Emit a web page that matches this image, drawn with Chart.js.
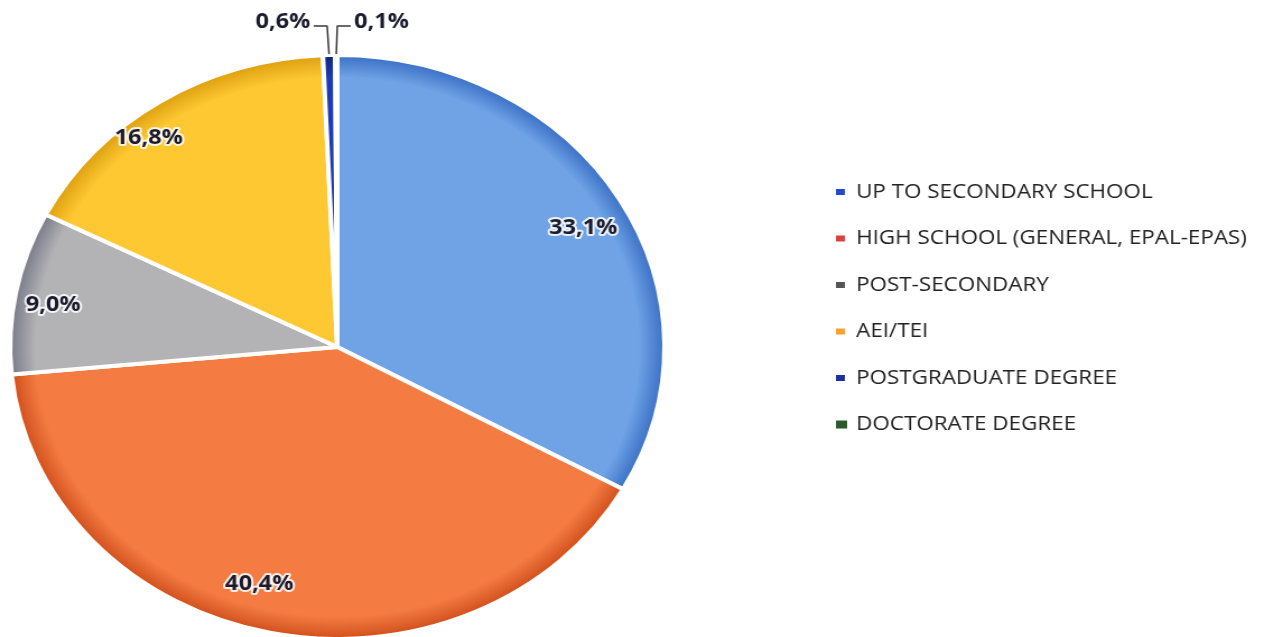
<!DOCTYPE html>
<html>
<head>
<meta charset="utf-8">
<script src="https://cdn.jsdelivr.net/npm/chart.js@4.4.1/dist/chart.umd.min.js"></script>
<style>
  html, body { margin: 0; padding: 0; background: #fff; }
</style>
</head>
<body>
<canvas id="pie" width="1128" height="637" style="display:block;width:1264px;height:637px"></canvas>
<script>
const categories = [
  "UP TO SECONDARY SCHOOL",
  "HIGH SCHOOL (GENERAL, EPAL-EPAS)",
  "POST-SECONDARY",
  "AEI/TEI",
  "POSTGRADUATE DEGREE",
  "DOCTORATE DEGREE"
];
const shares = [33.1, 40.4, 9.0, 16.8, 0.6, 0.1];

// slice fills and the (different) legend swatches, as in the original
const sliceColors = ["#6fa3e6", "#f47c43", "#b3b3b6", "#fec832", "#1c3bb2", "#2e7d32"];
const rimColors   = ["#3f74c8", "#d4531f", "#7d7f8c", "#e0a313", "#10267e", "#1b5e20"];
const legendColors = ["#2747d0", "#d8423c", "#555555", "#f5a232", "#1f2f9c", "#2b5a2b"];

// where each inside label sits: fraction of radius, and a small turn (degrees) off the mid angle
const labelDepth = [0.855, 0.846, 0.88, 0.92];
const labelTurn = [2, 4.5, -1.4, -6];

const fmt = v => v.toFixed(1).replace(".", ",") + "%";

function sliceFill(ctx) {
  const chart = ctx.chart;
  const a = chart.chartArea;
  const i = ctx.dataIndex;
  if (!a) return sliceColors[i];
  const cx = (a.left + a.right) / 2, cy = (a.top + a.bottom) / 2;
  const r = Math.min(a.right - a.left, a.bottom - a.top) / 2;
  const g = chart.ctx.createRadialGradient(cx, cy, 0, cx, cy, r);
  g.addColorStop(0, sliceColors[i]);
  g.addColorStop(0.93, sliceColors[i]);
  g.addColorStop(1, rimColors[i]);
  return g;
}

const pieLabels = {
  id: "pieLabels",
  afterDatasetsDraw(chart) {
    const c = chart.ctx;
    const arcs = chart.getDatasetMeta(0).data;
    c.save();
    c.font = "bold 21px 'Open Sans', sans-serif";
    c.lineJoin = "round";
    let smallCount = 0;
    arcs.forEach((arc, i) => {
      const p = arc.getProps(["x", "y", "startAngle", "endAngle", "outerRadius"], true);
      const mid = (p.startAngle + p.endAngle) / 2;
      const txt = fmt(shares[i]);
      if (shares[i] >= 1) {
        const ang = mid + labelTurn[i] * Math.PI / 180;
        const r = p.outerRadius * labelDepth[i];
        const x = p.x + Math.cos(ang) * r, y = p.y + Math.sin(ang) * r;
        c.textAlign = "center";
        c.textBaseline = "middle";
        c.strokeStyle = "rgba(255,255,255,0.85)";
        c.lineWidth = 4;
        c.strokeText(txt, x, y);
        c.fillStyle = "#1b1b2e";
        c.fillText(txt, x, y);
      } else {
        const side = smallCount === 0 ? -1 : 1;
        smallCount++;
        const x0 = p.x + Math.cos(mid) * (p.outerRadius + 1);
        const y0 = p.y + Math.sin(mid) * (p.outerRadius + 1);
        const x1 = p.x + Math.cos(mid) * (p.outerRadius + 29) + side * 1;
        const y1 = p.y + Math.sin(mid) * (p.outerRadius + 29);
        const x2 = x1 + side * 12;
        c.strokeStyle = "#3a3a3a";
        c.lineWidth = 1.5;
        c.beginPath();
        c.moveTo(x0, y0);
        c.lineTo(x1, y1);
        c.lineTo(x2, y1);
        c.stroke();
        c.textAlign = side < 0 ? "right" : "left";
        c.textBaseline = "middle";
        c.fillStyle = "#1b1b2e";
        c.fillText(txt, x2 + side * 3, y1 - 4);
      }
    });
    c.restore();
  }
};

const sideLegend = {
  id: "sideLegend",
  afterDraw(chart) {
    const c = chart.ctx;
    c.save();
    c.font = "20px 'Open Sans', sans-serif";
    c.textAlign = "left";
    c.textBaseline = "middle";
    categories.forEach((name, i) => {
      const y = 192 + i * 46.5;
      const big = i === categories.length - 1;
      const w = big ? 10 : 8, h = big ? 8 : 6;
      c.fillStyle = legendColors[i];
      c.fillRect(746, y - h / 2, w, h);
      c.fillStyle = "#222";
      c.fillText(name, 764, y);
    });
    c.restore();
  }
};

new Chart(document.getElementById("pie"), {
  type: "pie",
  data: {
    labels: categories,
    datasets: [{
      data: shares,
      backgroundColor: sliceFill,
      borderColor: "#ffffff",
      borderWidth: 4,
      radius: 292
    }]
  },
  options: {
    responsive: false,
    animation: false,
    devicePixelRatio: 1,
    layout: { padding: { left: 11, right: 537, top: 57, bottom: 0 } },
    plugins: {
      legend: { display: false },
      tooltip: { enabled: false }
    }
  },
  plugins: [pieLabels, sideLegend]
});
</script>
</body>
</html>
